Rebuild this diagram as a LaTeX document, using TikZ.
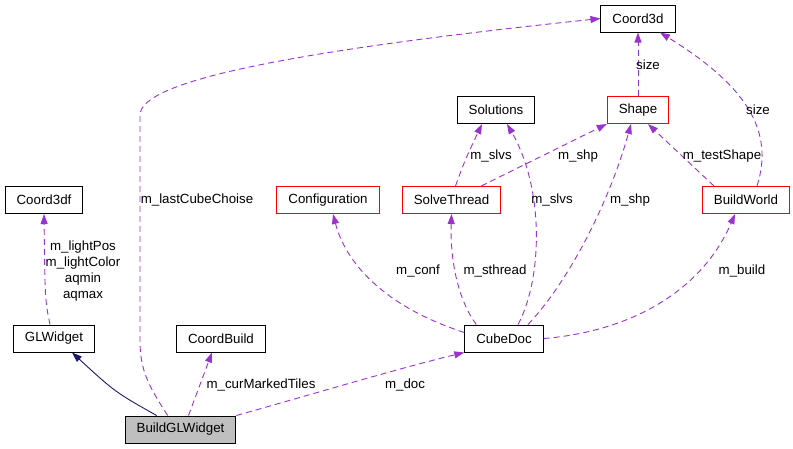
\documentclass[tikz,border=0pt]{standalone}
\usepackage{fontspec}
\setmainfont{Liberation Sans}
\usetikzlibrary{arrows.meta, positioning}
\definecolor{dgpurple}{HTML}{9A32CD}
\definecolor{dgnavy}{HTML}{191970}
\definecolor{dggray}{HTML}{BFBFBF}

\begin{document}
\begin{tikzpicture}[x=1pt,y=-1pt]
            \tikzset{cls/.style = {draw=black, line width=1pt, minimum height=27pt, inner xsep=11.5pt, inner ysep=0pt, font=\fontsize{13.3}{16}\selectfont},
                     redcls/.style = {cls, draw=red},
                     lbl/.style = {font=\fontsize{13.3}{16}\selectfont, inner sep=0pt, align=center},
                     dep/.style = {dgpurple, line width=0.9pt, dash pattern=on 6pt off 4pt, -{Triangle[length=10pt,width=7pt]}},
                     inh/.style = {dgnavy, line width=0.9pt, -{Triangle[length=10pt,width=7pt]}}}
            \useasboundingbox (0,0) rectangle (793,448);
            % classes
            \node[cls] (coord3d) at (638,18.5) {Coord3d};
            \node[cls] (solutions) at (496,110) {Solutions};
            \node[redcls] (shape) at (638,110) {Shape};
            \node[cls] (c3df) at (44,200) {Coord3df};
            \node[redcls] (config) at (328,200) {Configuration};
            \node[redcls] (solve) at (451.5,200) {SolveThread};
            \node[redcls] (buildworld) at (746,200) {BuildWorld};
            \node[cls] (glw) at (54,338.5) {GLWidget};
            \node[cls] (cbuild) at (221,338.5) {CoordBuild};
            \node[cls] (cubedoc) at (504,338.5) {CubeDoc};
            \node[cls, fill=dggray] (bglw) at (180.5,429.5) {BuildGLWidget};
            % edges
            \draw[inh] ([xshift=32pt]bglw.north west) .. controls (115,392) .. ([xshift=18pt]glw.south);
            \draw[dep] ([xshift=43pt]bglw.north west) .. controls (148,385) and (140,370) .. (140,340) -- (140,115) .. controls (140,80) and (300,50) .. (coord3d.west);
            \draw[dep] ([xshift=8pt]bglw.north) -- ([xshift=-9pt]cbuild.south);
            \draw[dep] (bglw.north east) .. controls (320,392) and (400,368) .. (cubedoc.south west);
            \draw[dep] ([xshift=-4pt]glw.north) .. controls (45,300) .. (c3df.south);
            \draw[dep] ([yshift=6pt]cubedoc.west) .. controls (380,305) and (345,260) .. ([xshift=5pt]config.south);
            \draw[dep] ([xshift=12pt]cubedoc.north west) .. controls (458,300) and (450,260) .. (solve.south);
            \draw[dep] ([xshift=14pt]cubedoc.north) .. controls (542,280) and (545,190) .. ([xshift=11pt]solutions.south);
            \draw[dep] ([xshift=24pt]cubedoc.north) .. controls (570,280) and (610,200) .. ([xshift=-7pt]shape.south);
            \draw[dep] (cubedoc.east) .. controls (625,332) and (700,295) .. ([xshift=-11pt]buildworld.south);
            \draw[dep] ([xshift=4pt]solve.north) .. controls (465,160) .. ([xshift=-14pt]solutions.south);
            \draw[dep] ([xshift=-20pt]solve.north east) -- (shape.south west);
            \draw[dep] (shape.north) -- (coord3d.south);
            \draw[dep] ([xshift=12pt]buildworld.north west) -- ([xshift=10pt]shape.south);
            \draw[dep] ([xshift=11pt]buildworld.north) .. controls (775,130) and (745,85) .. ([xshift=22pt]coord3d.south);
            % labels
            \node[lbl] (lcube) at (197,200) {m\_lastCubeChoise};
            \node[lbl] (llight) at (83,271) {m\_lightPos\\m\_lightColor\\aqmin\\aqmax};
            \node[lbl] (lmarked) at (261,385) {m\_curMarkedTiles};
            \node[lbl] (ldoc) at (405,385) {m\_doc};
            \node[lbl] (lconf) at (418,271) {m\_conf};
            \node[lbl] (lsthread) at (495,271) {m\_sthread};
            \node[lbl] (lbuild) at (742,271) {m\_build};
            \node[lbl] (lslvsa) at (552,200) {m\_slvs};
            \node[lbl] (lshpa) at (630,200) {m\_shp};
            \node[lbl] (lslvsb) at (491,156) {m\_slvs};
            \node[lbl] (lshpb) at (578,156) {m\_shp};
            \node[lbl] (ltest) at (722,156) {m\_testShape};
            \node[lbl] (lsizea) at (648,65) {size};
            \node[lbl] (lsizeb) at (758,110) {size};
        \end{tikzpicture}
\end{document}
